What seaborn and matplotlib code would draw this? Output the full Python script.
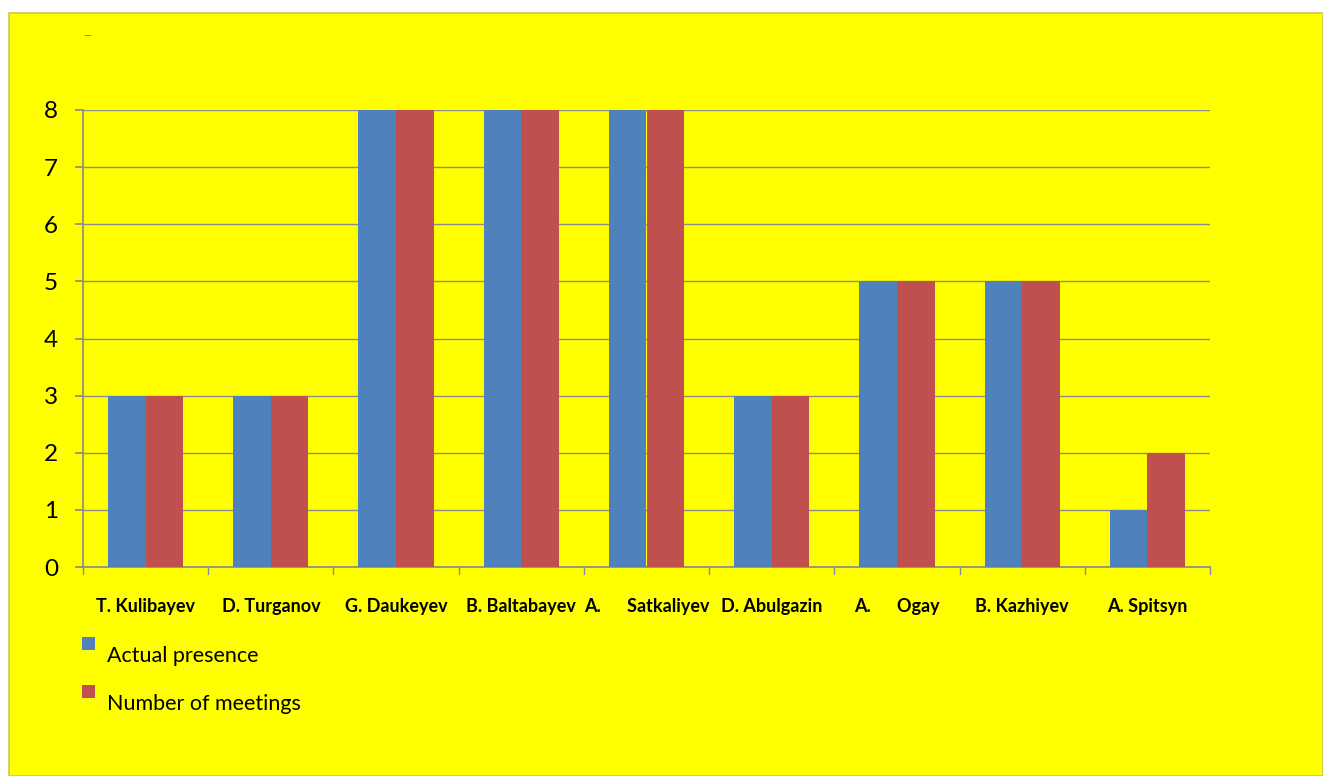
import matplotlib
matplotlib.use("Agg")
import matplotlib.pyplot as plt
import seaborn as sns
import pandas as pd
from matplotlib.patches import Rectangle

names = ["T. Kulibayev", "D. Turganov", "G. Daukeyev", "B. Baltabayev",
         "A.      Satkaliyev", "D. Abulgazin", "A.      Ogay", "B. Kazhiyev", "A. Spitsyn"]
actual_presence = [3, 3, 8, 8, 8, 3, 5, 5, 1]
number_of_meetings = [3, 3, 8, 8, 8, 3, 5, 5, 2]
series = ["Actual presence", "Number of meetings"]
colors = ["#4F81BD", "#C0504D"]
yticks = [0, 1, 2, 3, 4, 5, 6, 7, 8]

df = pd.DataFrame({
    "name": names * 2,
    "value": actual_presence + number_of_meetings,
    "series": [series[0]] * len(names) + [series[1]] * len(names),
})

sns.set_theme(style="white")
plt.rcParams["font.family"] = ["Lato", "DejaVu Sans"]

fig = plt.figure(figsize=(13.23, 7.76), dpi=100)
fig.patch.set_facecolor("white")
W, H = 1323, 776
bg = Rectangle((9 / W, 0), 1 - 9 / W, 1 - 13 / H, transform=fig.transFigure,
               facecolor="#FFFF00", edgecolor="#C8C850", linewidth=1.2, zorder=-10)
fig.add_artist(bg)

ax = fig.add_axes([83 / W, 1 - 567 / H, (1210 - 83) / W, (567 - 110) / H])
ax.set_zorder(5)
ax.set_facecolor("#FFFF00")
sns.barplot(data=df, x="name", y="value", hue="series", palette=colors,
            width=0.6, saturation=1, ax=ax, legend=False, zorder=3, linewidth=0)

ax.set_ylim(0, 8)
ax.set_xlim(-0.5, len(names) - 0.5)
ax.set_yticks(yticks)
ax.set_yticklabels([str(v) for v in yticks], fontsize=17.5, color="black")
ax.yaxis.grid(True, color="#8C8C8C", linewidth=1)
ax.set_axisbelow(True)
ax.set_xlabel("")
ax.set_ylabel("")
ax.set_xticks(range(len(names)))
ax.set_xticklabels(names, fontsize=13, fontweight="bold", color="black")
ax.tick_params(axis="x", length=0, pad=22)
ax.tick_params(axis="y", length=6, color="#8C8C8C", direction="out", pad=12, left=True)
for s in ["top", "right"]:
    ax.spines[s].set_visible(False)
ax.spines["left"].set_color("#8C8C8C")
ax.spines["bottom"].set_color("#8C8C8C")
for i in range(len(names) + 1):
    ax.plot([i - 0.5, i - 0.5], [0, -0.12], color="#8C8C8C", lw=1, clip_on=False)

# legend
for k, (lab, c) in enumerate(zip(series, colors)):
    y = 1 - (650 + k * 48) / H
    sq = Rectangle((82 / W, y), 13 / W, 13 / H, transform=fig.transFigure,
                   facecolor=c, edgecolor="none", zorder=10)
    fig.add_artist(sq)
    fig.text(107 / W, y - 6 / H, lab, fontsize=15.5, color="black", va="center", ha="left", zorder=10)

fig.text(83 / W, 1 - 36 / H, "—", fontsize=7, color="#777777", va="center", zorder=10)

fig.savefig("out.png", dpi=100, facecolor=fig.get_facecolor())
